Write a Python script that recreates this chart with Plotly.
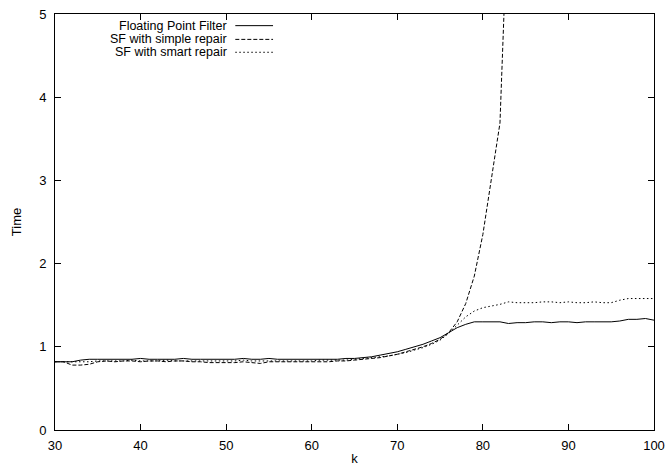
import plotly.graph_objects as go

k_fp = list(range(30, 101))
fp_time = [0.82, 0.82, 0.82, 0.84, 0.85, 0.85, 0.85, 0.85, 0.85, 0.85,
           0.86, 0.85, 0.85, 0.85, 0.85, 0.86, 0.85, 0.85, 0.85, 0.85,
           0.85, 0.85, 0.86, 0.85, 0.85, 0.86, 0.85, 0.85, 0.85, 0.85,
           0.85, 0.85, 0.85, 0.85, 0.86, 0.86, 0.87, 0.88, 0.90, 0.92,
           0.94, 0.97, 1.00, 1.03, 1.07, 1.11, 1.17, 1.23, 1.27, 1.30,
           1.30, 1.30, 1.30, 1.28, 1.29, 1.29, 1.30, 1.30, 1.29, 1.30,
           1.30, 1.29, 1.30, 1.30, 1.30, 1.30, 1.31, 1.33, 1.33, 1.34,
           1.32]

k_simple = list(range(30, 84))
simple_time = [0.82, 0.82, 0.78, 0.78, 0.79, 0.82, 0.83, 0.82, 0.83, 0.83,
               0.82, 0.83, 0.83, 0.82, 0.83, 0.83, 0.82, 0.82, 0.81, 0.81,
               0.81, 0.81, 0.82, 0.81, 0.80, 0.82, 0.82, 0.82, 0.82, 0.82,
               0.82, 0.82, 0.82, 0.83, 0.83, 0.84, 0.85, 0.86, 0.87, 0.89,
               0.91, 0.94, 0.97, 1.00, 1.04, 1.09, 1.17, 1.30, 1.52, 1.85,
               2.35, 3.05, 3.69, 6.50]

k_smart = list(range(30, 101))
smart_time = [0.82, 0.82, 0.82, 0.82, 0.82, 0.83, 0.83, 0.83, 0.83, 0.84,
              0.83, 0.83, 0.83, 0.84, 0.83, 0.83, 0.83, 0.83, 0.83, 0.83,
              0.83, 0.83, 0.84, 0.83, 0.83, 0.83, 0.83, 0.83, 0.83, 0.83,
              0.83, 0.84, 0.84, 0.84, 0.84, 0.85, 0.86, 0.87, 0.88, 0.89,
              0.91, 0.93, 0.96, 0.99, 1.03, 1.08, 1.16, 1.26, 1.36, 1.43,
              1.47, 1.49, 1.51, 1.54, 1.53, 1.53, 1.53, 1.54, 1.54, 1.53,
              1.54, 1.53, 1.53, 1.54, 1.53, 1.53, 1.56, 1.58, 1.58, 1.58,
              1.58]

series_names = ["Floating Point Filter", "SF with simple repair", "SF with smart repair"]
dashes = ["solid", "4px,2px", "1.5px,2.5px"]

FONT = "Liberation Sans, Arial, Helvetica, sans-serif"

fig = go.Figure()
for x, y, name, d in zip([k_fp, k_simple, k_smart],
                         [fp_time, simple_time, smart_time],
                         series_names, dashes):
    fig.add_trace(go.Scatter(x=x, y=y, mode="lines", name=name,
                             line=dict(color="black", width=1, dash=d),
                             showlegend=False))

# gnuplot-style legend: right-aligned text with line sample to the right
row_y = [0.972, 0.939, 0.908]
for name, d, yy in zip(series_names, dashes, row_y):
    fig.add_annotation(xref="paper", yref="paper", x=0.288, y=yy, text=name,
                       showarrow=False, xanchor="right", yanchor="middle",
                       font=dict(family=FONT, size=12.5, color="black"),
                       borderpad=0)
    fig.add_shape(type="line", xref="paper", yref="paper",
                  x0=0.301, x1=0.364, y0=yy, y1=yy,
                  line=dict(color="black", width=1, dash=d))

axis_common = dict(showline=True, linecolor="black", linewidth=1, mirror="ticks",
                   ticks="inside", ticklen=6, tickcolor="black", tickwidth=1,
                   showgrid=False, zeroline=False, automargin=False,
                   tickfont=dict(family=FONT, size=13, color="black"))

fig.update_xaxes(range=[30, 100], tick0=30, dtick=10, ticklabelstandoff=3,
                 title=dict(text="k", font=dict(family=FONT, size=13, color="black"), standoff=3),
                 **axis_common)
fig.update_yaxes(range=[0, 5], tick0=0, dtick=1, ticklabelstandoff=5,
                 title=dict(text="Time", font=dict(family=FONT, size=13, color="black"), standoff=14),
                 **axis_common)

fig.update_layout(width=669, height=466, plot_bgcolor="white", paper_bgcolor="white",
                  margin=dict(l=55, r=15, t=14, b=36),
                  font=dict(family=FONT, size=13, color="black"))

fig.write_html("out.html", config={"displayModeBar": False},
               post_script="document.body.style.margin='0px';")
